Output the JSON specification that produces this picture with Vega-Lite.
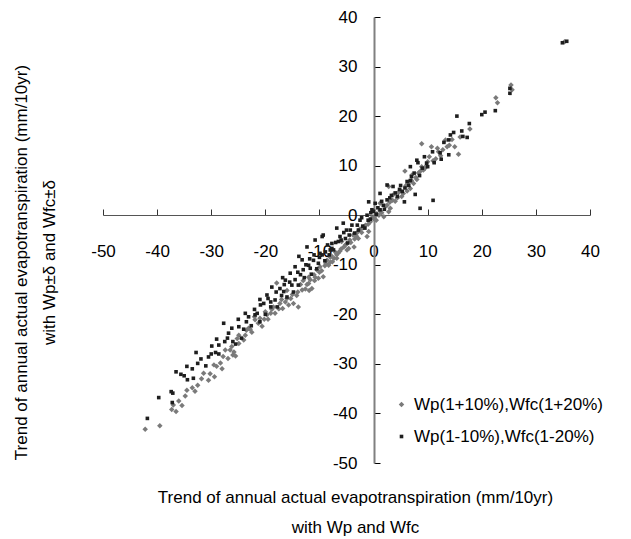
{
  "$schema": "https://vega.github.io/schema/vega-lite/v6.json",
  "autosize": {"type": "none"},
  "padding": {"left": 103, "top": 17, "right": 41, "bottom": 76},
  "width": 487,
  "height": 446,
  "background": "white",
  "config": {
    "view": {"stroke": null},
    "font": "Liberation Sans",
    "axis": {"grid": false, "labelFont": "Liberation Sans", "titleFont": "Liberation Sans", "labelColor": "#000", "titleColor": "#000", "labelFontSize": 17, "titleFontSize": 17, "titleFontWeight": "normal", "labelFlush": false, "labelOverlap": false}
  },
  "data": {
    "values": [
      {"s": "Wp(1+10%),Wfc(1+20%)", "x": -42.2, "y": -43.2},
      {"s": "Wp(1+10%),Wfc(1+20%)", "x": -39.5, "y": -42.5},
      {"s": "Wp(1+10%),Wfc(1+20%)", "x": -37.3, "y": -39.2},
      {"s": "Wp(1+10%),Wfc(1+20%)", "x": -36.5, "y": -39.6},
      {"s": "Wp(1+10%),Wfc(1+20%)", "x": -35.4, "y": -38.4},
      {"s": "Wp(1+10%),Wfc(1+20%)", "x": -37.0, "y": -38.3},
      {"s": "Wp(1+10%),Wfc(1+20%)", "x": -36.0, "y": -37.5},
      {"s": "Wp(1+10%),Wfc(1+20%)", "x": -34.8, "y": -36.5},
      {"s": "Wp(1+10%),Wfc(1+20%)", "x": -34.5, "y": -35.3},
      {"s": "Wp(1+10%),Wfc(1+20%)", "x": -33.5, "y": -34.8},
      {"s": "Wp(1+10%),Wfc(1+20%)", "x": -33.0, "y": -35.5},
      {"s": "Wp(1+10%),Wfc(1+20%)", "x": -32.5, "y": -34.3},
      {"s": "Wp(1+10%),Wfc(1+20%)", "x": -31.8, "y": -33.0},
      {"s": "Wp(1+10%),Wfc(1+20%)", "x": -31.4, "y": -31.9},
      {"s": "Wp(1+10%),Wfc(1+20%)", "x": -30.5, "y": -33.3},
      {"s": "Wp(1+10%),Wfc(1+20%)", "x": -30.2, "y": -32.0},
      {"s": "Wp(1+10%),Wfc(1+20%)", "x": -29.5, "y": -30.2},
      {"s": "Wp(1+10%),Wfc(1+20%)", "x": -29.4, "y": -32.6},
      {"s": "Wp(1+10%),Wfc(1+20%)", "x": -29.0, "y": -30.5},
      {"s": "Wp(1+10%),Wfc(1+20%)", "x": -28.3, "y": -29.8},
      {"s": "Wp(1+10%),Wfc(1+20%)", "x": -28.0, "y": -31.0},
      {"s": "Wp(1+10%),Wfc(1+20%)", "x": -27.8, "y": -28.5},
      {"s": "Wp(1+10%),Wfc(1+20%)", "x": -27.4, "y": -27.2},
      {"s": "Wp(1+10%),Wfc(1+20%)", "x": -26.9, "y": -28.9},
      {"s": "Wp(1+10%),Wfc(1+20%)", "x": -26.5, "y": -27.2},
      {"s": "Wp(1+10%),Wfc(1+20%)", "x": -26.2, "y": -26.5},
      {"s": "Wp(1+10%),Wfc(1+20%)", "x": -26.0, "y": -28.2},
      {"s": "Wp(1+10%),Wfc(1+20%)", "x": -25.8, "y": -27.6},
      {"s": "Wp(1+10%),Wfc(1+20%)", "x": -25.5, "y": -28.4},
      {"s": "Wp(1+10%),Wfc(1+20%)", "x": -24.9, "y": -25.9},
      {"s": "Wp(1+10%),Wfc(1+20%)", "x": -25.2, "y": -24.9},
      {"s": "Wp(1+10%),Wfc(1+20%)", "x": -24.9, "y": -24.2},
      {"s": "Wp(1+10%),Wfc(1+20%)", "x": -24.0, "y": -25.2},
      {"s": "Wp(1+10%),Wfc(1+20%)", "x": -23.7, "y": -24.2},
      {"s": "Wp(1+10%),Wfc(1+20%)", "x": -23.5, "y": -23.2},
      {"s": "Wp(1+10%),Wfc(1+20%)", "x": -23.1, "y": -22.8},
      {"s": "Wp(1+10%),Wfc(1+20%)", "x": -22.8, "y": -23.0},
      {"s": "Wp(1+10%),Wfc(1+20%)", "x": -22.5, "y": -23.6},
      {"s": "Wp(1+10%),Wfc(1+20%)", "x": -22.0, "y": -20.5},
      {"s": "Wp(1+10%),Wfc(1+20%)", "x": -21.9, "y": -21.1},
      {"s": "Wp(1+10%),Wfc(1+20%)", "x": -21.3, "y": -21.8},
      {"s": "Wp(1+10%),Wfc(1+20%)", "x": -21.0, "y": -20.8},
      {"s": "Wp(1+10%),Wfc(1+20%)", "x": -20.6, "y": -22.4},
      {"s": "Wp(1+10%),Wfc(1+20%)", "x": -20.2, "y": -21.0},
      {"s": "Wp(1+10%),Wfc(1+20%)", "x": -20.0, "y": -19.5},
      {"s": "Wp(1+10%),Wfc(1+20%)", "x": -19.7, "y": -20.1},
      {"s": "Wp(1+10%),Wfc(1+20%)", "x": -19.5, "y": -21.0},
      {"s": "Wp(1+10%),Wfc(1+20%)", "x": -19.0, "y": -19.8},
      {"s": "Wp(1+10%),Wfc(1+20%)", "x": -18.8, "y": -19.0},
      {"s": "Wp(1+10%),Wfc(1+20%)", "x": -18.5, "y": -18.5},
      {"s": "Wp(1+10%),Wfc(1+20%)", "x": -18.2, "y": -19.8},
      {"s": "Wp(1+10%),Wfc(1+20%)", "x": -17.9, "y": -13.7},
      {"s": "Wp(1+10%),Wfc(1+20%)", "x": -17.5, "y": -18.9},
      {"s": "Wp(1+10%),Wfc(1+20%)", "x": -17.3, "y": -17.8},
      {"s": "Wp(1+10%),Wfc(1+20%)", "x": -17.0, "y": -17.0},
      {"s": "Wp(1+10%),Wfc(1+20%)", "x": -16.8, "y": -18.8},
      {"s": "Wp(1+10%),Wfc(1+20%)", "x": -16.3, "y": -17.5},
      {"s": "Wp(1+10%),Wfc(1+20%)", "x": -16.0, "y": -16.8},
      {"s": "Wp(1+10%),Wfc(1+20%)", "x": -16.0, "y": -15.2},
      {"s": "Wp(1+10%),Wfc(1+20%)", "x": -15.7, "y": -18.1},
      {"s": "Wp(1+10%),Wfc(1+20%)", "x": -15.3, "y": -16.8},
      {"s": "Wp(1+10%),Wfc(1+20%)", "x": -15.0, "y": -16.0},
      {"s": "Wp(1+10%),Wfc(1+20%)", "x": -14.8, "y": -17.8},
      {"s": "Wp(1+10%),Wfc(1+20%)", "x": -14.2, "y": -16.2},
      {"s": "Wp(1+10%),Wfc(1+20%)", "x": -14.0, "y": -15.5},
      {"s": "Wp(1+10%),Wfc(1+20%)", "x": -13.9, "y": -18.5},
      {"s": "Wp(1+10%),Wfc(1+20%)", "x": -13.5, "y": -14.0},
      {"s": "Wp(1+10%),Wfc(1+20%)", "x": -13.2, "y": -15.1},
      {"s": "Wp(1+10%),Wfc(1+20%)", "x": -13.0, "y": -13.2},
      {"s": "Wp(1+10%),Wfc(1+20%)", "x": -12.6, "y": -14.9},
      {"s": "Wp(1+10%),Wfc(1+20%)", "x": -12.3, "y": -14.0},
      {"s": "Wp(1+10%),Wfc(1+20%)", "x": -12.0, "y": -13.8},
      {"s": "Wp(1+10%),Wfc(1+20%)", "x": -12.0, "y": -12.5},
      {"s": "Wp(1+10%),Wfc(1+20%)", "x": -11.9, "y": -15.2},
      {"s": "Wp(1+10%),Wfc(1+20%)", "x": -11.7, "y": -13.0},
      {"s": "Wp(1+10%),Wfc(1+20%)", "x": -11.4, "y": -14.8},
      {"s": "Wp(1+10%),Wfc(1+20%)", "x": -11.0, "y": -12.0},
      {"s": "Wp(1+10%),Wfc(1+20%)", "x": -10.9, "y": -13.2},
      {"s": "Wp(1+10%),Wfc(1+20%)", "x": -10.8, "y": -12.5},
      {"s": "Wp(1+10%),Wfc(1+20%)", "x": -10.5, "y": -11.0},
      {"s": "Wp(1+10%),Wfc(1+20%)", "x": -10.2, "y": -12.7},
      {"s": "Wp(1+10%),Wfc(1+20%)", "x": -10.0, "y": -11.5},
      {"s": "Wp(1+10%),Wfc(1+20%)", "x": -9.3, "y": -12.4},
      {"s": "Wp(1+10%),Wfc(1+20%)", "x": -9.9, "y": -10.4},
      {"s": "Wp(1+10%),Wfc(1+20%)", "x": -9.6, "y": -11.2},
      {"s": "Wp(1+10%),Wfc(1+20%)", "x": -9.0, "y": -10.2},
      {"s": "Wp(1+10%),Wfc(1+20%)", "x": -8.8, "y": -9.8},
      {"s": "Wp(1+10%),Wfc(1+20%)", "x": -8.6, "y": -9.1},
      {"s": "Wp(1+10%),Wfc(1+20%)", "x": -8.3, "y": -10.1},
      {"s": "Wp(1+10%),Wfc(1+20%)", "x": -8.0, "y": -8.5},
      {"s": "Wp(1+10%),Wfc(1+20%)", "x": -8.0, "y": -9.5},
      {"s": "Wp(1+10%),Wfc(1+20%)", "x": -7.8, "y": -8.2},
      {"s": "Wp(1+10%),Wfc(1+20%)", "x": -7.6, "y": -9.4},
      {"s": "Wp(1+10%),Wfc(1+20%)", "x": -7.3, "y": -8.7},
      {"s": "Wp(1+10%),Wfc(1+20%)", "x": -7.0, "y": -7.5},
      {"s": "Wp(1+10%),Wfc(1+20%)", "x": -6.8, "y": -8.0},
      {"s": "Wp(1+10%),Wfc(1+20%)", "x": -6.8, "y": -8.7},
      {"s": "Wp(1+10%),Wfc(1+20%)", "x": -6.5, "y": -7.6},
      {"s": "Wp(1+10%),Wfc(1+20%)", "x": -6.2, "y": -7.2},
      {"s": "Wp(1+10%),Wfc(1+20%)", "x": -6.0, "y": -6.8},
      {"s": "Wp(1+10%),Wfc(1+20%)", "x": -5.9, "y": -5.3},
      {"s": "Wp(1+10%),Wfc(1+20%)", "x": -5.5, "y": -6.4},
      {"s": "Wp(1+10%),Wfc(1+20%)", "x": -5.2, "y": -6.0},
      {"s": "Wp(1+10%),Wfc(1+20%)", "x": -5.0, "y": -5.8},
      {"s": "Wp(1+10%),Wfc(1+20%)", "x": -4.9, "y": -7.0},
      {"s": "Wp(1+10%),Wfc(1+20%)", "x": -4.6, "y": -6.7},
      {"s": "Wp(1+10%),Wfc(1+20%)", "x": -4.4, "y": -5.0},
      {"s": "Wp(1+10%),Wfc(1+20%)", "x": -4.2, "y": -5.5},
      {"s": "Wp(1+10%),Wfc(1+20%)", "x": -3.8, "y": -4.0},
      {"s": "Wp(1+10%),Wfc(1+20%)", "x": -3.6, "y": -6.4},
      {"s": "Wp(1+10%),Wfc(1+20%)", "x": -3.5, "y": -4.8},
      {"s": "Wp(1+10%),Wfc(1+20%)", "x": -3.2, "y": -4.2},
      {"s": "Wp(1+10%),Wfc(1+20%)", "x": -3.0, "y": -3.5},
      {"s": "Wp(1+10%),Wfc(1+20%)", "x": -2.8, "y": -4.7},
      {"s": "Wp(1+10%),Wfc(1+20%)", "x": -2.5, "y": -2.8},
      {"s": "Wp(1+10%),Wfc(1+20%)", "x": -2.2, "y": -3.5},
      {"s": "Wp(1+10%),Wfc(1+20%)", "x": -2.0, "y": -2.6},
      {"s": "Wp(1+10%),Wfc(1+20%)", "x": -1.8, "y": -2.4},
      {"s": "Wp(1+10%),Wfc(1+20%)", "x": -1.2, "y": -4.3},
      {"s": "Wp(1+10%),Wfc(1+20%)", "x": -1.0, "y": -1.8},
      {"s": "Wp(1+10%),Wfc(1+20%)", "x": -0.9, "y": -3.3},
      {"s": "Wp(1+10%),Wfc(1+20%)", "x": -1.5, "y": -2.0},
      {"s": "Wp(1+10%),Wfc(1+20%)", "x": -0.6, "y": -1.3},
      {"s": "Wp(1+10%),Wfc(1+20%)", "x": -0.3, "y": -0.5},
      {"s": "Wp(1+10%),Wfc(1+20%)", "x": 0.0, "y": -0.7},
      {"s": "Wp(1+10%),Wfc(1+20%)", "x": 0.3, "y": -0.2},
      {"s": "Wp(1+10%),Wfc(1+20%)", "x": 0.5, "y": -1.0},
      {"s": "Wp(1+10%),Wfc(1+20%)", "x": 0.6, "y": 0.3},
      {"s": "Wp(1+10%),Wfc(1+20%)", "x": 1.0, "y": 0.0},
      {"s": "Wp(1+10%),Wfc(1+20%)", "x": 1.2, "y": 0.9},
      {"s": "Wp(1+10%),Wfc(1+20%)", "x": 1.5, "y": 0.5},
      {"s": "Wp(1+10%),Wfc(1+20%)", "x": 1.9, "y": -0.3},
      {"s": "Wp(1+10%),Wfc(1+20%)", "x": 2.5, "y": 2.0},
      {"s": "Wp(1+10%),Wfc(1+20%)", "x": 2.8, "y": 0.7},
      {"s": "Wp(1+10%),Wfc(1+20%)", "x": 3.1, "y": 1.4},
      {"s": "Wp(1+10%),Wfc(1+20%)", "x": 1.2, "y": 2.4},
      {"s": "Wp(1+10%),Wfc(1+20%)", "x": 2.2, "y": 1.8},
      {"s": "Wp(1+10%),Wfc(1+20%)", "x": 3.0, "y": 2.6},
      {"s": "Wp(1+10%),Wfc(1+20%)", "x": 3.5, "y": 3.0},
      {"s": "Wp(1+10%),Wfc(1+20%)", "x": 3.6, "y": 4.1},
      {"s": "Wp(1+10%),Wfc(1+20%)", "x": 2.8, "y": 5.8},
      {"s": "Wp(1+10%),Wfc(1+20%)", "x": 4.0, "y": 2.8},
      {"s": "Wp(1+10%),Wfc(1+20%)", "x": 4.4, "y": 3.5},
      {"s": "Wp(1+10%),Wfc(1+20%)", "x": 4.6, "y": 4.6},
      {"s": "Wp(1+10%),Wfc(1+20%)", "x": 5.2, "y": 3.8},
      {"s": "Wp(1+10%),Wfc(1+20%)", "x": 5.5, "y": 4.4},
      {"s": "Wp(1+10%),Wfc(1+20%)", "x": 5.0, "y": 5.0},
      {"s": "Wp(1+10%),Wfc(1+20%)", "x": 6.2, "y": 4.9},
      {"s": "Wp(1+10%),Wfc(1+20%)", "x": 6.0, "y": 6.0},
      {"s": "Wp(1+10%),Wfc(1+20%)", "x": 6.5, "y": 6.6},
      {"s": "Wp(1+10%),Wfc(1+20%)", "x": 6.8, "y": 5.4},
      {"s": "Wp(1+10%),Wfc(1+20%)", "x": 7.0, "y": 7.0},
      {"s": "Wp(1+10%),Wfc(1+20%)", "x": 7.4, "y": 6.4},
      {"s": "Wp(1+10%),Wfc(1+20%)", "x": 7.8, "y": 7.6},
      {"s": "Wp(1+10%),Wfc(1+20%)", "x": 5.8, "y": 8.9},
      {"s": "Wp(1+10%),Wfc(1+20%)", "x": 7.1, "y": 8.1},
      {"s": "Wp(1+10%),Wfc(1+20%)", "x": 8.3, "y": 8.5},
      {"s": "Wp(1+10%),Wfc(1+20%)", "x": 8.6, "y": 8.8},
      {"s": "Wp(1+10%),Wfc(1+20%)", "x": 8.0, "y": 7.2},
      {"s": "Wp(1+10%),Wfc(1+20%)", "x": 9.2, "y": 9.1},
      {"s": "Wp(1+10%),Wfc(1+20%)", "x": 9.5, "y": 9.5},
      {"s": "Wp(1+10%),Wfc(1+20%)", "x": 9.8, "y": 10.0},
      {"s": "Wp(1+10%),Wfc(1+20%)", "x": 8.9, "y": 9.8},
      {"s": "Wp(1+10%),Wfc(1+20%)", "x": 10.0, "y": 10.8},
      {"s": "Wp(1+10%),Wfc(1+20%)", "x": 10.3, "y": 11.8},
      {"s": "Wp(1+10%),Wfc(1+20%)", "x": 11.0, "y": 11.0},
      {"s": "Wp(1+10%),Wfc(1+20%)", "x": 8.9, "y": 14.4},
      {"s": "Wp(1+10%),Wfc(1+20%)", "x": 10.7, "y": 13.8},
      {"s": "Wp(1+10%),Wfc(1+20%)", "x": 11.8, "y": 13.5},
      {"s": "Wp(1+10%),Wfc(1+20%)", "x": 11.5, "y": 11.4},
      {"s": "Wp(1+10%),Wfc(1+20%)", "x": 12.0, "y": 12.8},
      {"s": "Wp(1+10%),Wfc(1+20%)", "x": 12.4, "y": 12.0},
      {"s": "Wp(1+10%),Wfc(1+20%)", "x": 12.8, "y": 13.2},
      {"s": "Wp(1+10%),Wfc(1+20%)", "x": 13.3, "y": 15.2},
      {"s": "Wp(1+10%),Wfc(1+20%)", "x": 13.6, "y": 13.8},
      {"s": "Wp(1+10%),Wfc(1+20%)", "x": 14.0, "y": 14.1},
      {"s": "Wp(1+10%),Wfc(1+20%)", "x": 14.5, "y": 15.3},
      {"s": "Wp(1+10%),Wfc(1+20%)", "x": 15.7, "y": 12.3},
      {"s": "Wp(1+10%),Wfc(1+20%)", "x": 15.0, "y": 13.8},
      {"s": "Wp(1+10%),Wfc(1+20%)", "x": 16.0, "y": 15.8},
      {"s": "Wp(1+10%),Wfc(1+20%)", "x": 17.8, "y": 17.4},
      {"s": "Wp(1+10%),Wfc(1+20%)", "x": 22.6, "y": 23.7},
      {"s": "Wp(1+10%),Wfc(1+20%)", "x": 22.9, "y": 22.7},
      {"s": "Wp(1+10%),Wfc(1+20%)", "x": 25.4, "y": 26.3},
      {"s": "Wp(1+10%),Wfc(1+20%)", "x": 25.6, "y": 25.3},
      {"s": "Wp(1+10%),Wfc(1+20%)", "x": 35.3, "y": 35.0},
      {"s": "Wp(1-10%),Wfc(1-20%)", "x": -41.8, "y": -41.0},
      {"s": "Wp(1-10%),Wfc(1-20%)", "x": -39.7, "y": -36.8},
      {"s": "Wp(1-10%),Wfc(1-20%)", "x": -37.4, "y": -35.6},
      {"s": "Wp(1-10%),Wfc(1-20%)", "x": -37.1, "y": -35.9},
      {"s": "Wp(1-10%),Wfc(1-20%)", "x": -37.2, "y": -37.8},
      {"s": "Wp(1-10%),Wfc(1-20%)", "x": -36.5, "y": -31.6},
      {"s": "Wp(1-10%),Wfc(1-20%)", "x": -35.6, "y": -32.1},
      {"s": "Wp(1-10%),Wfc(1-20%)", "x": -35.0, "y": -32.4},
      {"s": "Wp(1-10%),Wfc(1-20%)", "x": -34.5, "y": -30.5},
      {"s": "Wp(1-10%),Wfc(1-20%)", "x": -34.4, "y": -33.2},
      {"s": "Wp(1-10%),Wfc(1-20%)", "x": -33.5, "y": -31.0},
      {"s": "Wp(1-10%),Wfc(1-20%)", "x": -33.3, "y": -32.9},
      {"s": "Wp(1-10%),Wfc(1-20%)", "x": -32.8, "y": -27.7},
      {"s": "Wp(1-10%),Wfc(1-20%)", "x": -32.5, "y": -29.9},
      {"s": "Wp(1-10%),Wfc(1-20%)", "x": -31.9, "y": -29.0},
      {"s": "Wp(1-10%),Wfc(1-20%)", "x": -31.0, "y": -30.4},
      {"s": "Wp(1-10%),Wfc(1-20%)", "x": -30.5, "y": -28.6},
      {"s": "Wp(1-10%),Wfc(1-20%)", "x": -30.0, "y": -28.0},
      {"s": "Wp(1-10%),Wfc(1-20%)", "x": -29.9, "y": -26.4},
      {"s": "Wp(1-10%),Wfc(1-20%)", "x": -29.2, "y": -27.7},
      {"s": "Wp(1-10%),Wfc(1-20%)", "x": -29.0, "y": -25.0},
      {"s": "Wp(1-10%),Wfc(1-20%)", "x": -28.6, "y": -26.2},
      {"s": "Wp(1-10%),Wfc(1-20%)", "x": -28.6, "y": -28.0},
      {"s": "Wp(1-10%),Wfc(1-20%)", "x": -27.7, "y": -21.8},
      {"s": "Wp(1-10%),Wfc(1-20%)", "x": -27.5, "y": -25.5},
      {"s": "Wp(1-10%),Wfc(1-20%)", "x": -27.0, "y": -24.8},
      {"s": "Wp(1-10%),Wfc(1-20%)", "x": -26.8, "y": -23.8},
      {"s": "Wp(1-10%),Wfc(1-20%)", "x": -26.2, "y": -22.8},
      {"s": "Wp(1-10%),Wfc(1-20%)", "x": -26.0, "y": -25.5},
      {"s": "Wp(1-10%),Wfc(1-20%)", "x": -25.5, "y": -26.0},
      {"s": "Wp(1-10%),Wfc(1-20%)", "x": -25.0, "y": -21.0},
      {"s": "Wp(1-10%),Wfc(1-20%)", "x": -24.9, "y": -22.5},
      {"s": "Wp(1-10%),Wfc(1-20%)", "x": -24.4, "y": -24.8},
      {"s": "Wp(1-10%),Wfc(1-20%)", "x": -24.0, "y": -23.0},
      {"s": "Wp(1-10%),Wfc(1-20%)", "x": -23.7, "y": -19.8},
      {"s": "Wp(1-10%),Wfc(1-20%)", "x": -23.5, "y": -21.5},
      {"s": "Wp(1-10%),Wfc(1-20%)", "x": -23.1, "y": -20.5},
      {"s": "Wp(1-10%),Wfc(1-20%)", "x": -22.6, "y": -22.3},
      {"s": "Wp(1-10%),Wfc(1-20%)", "x": -22.0, "y": -19.0},
      {"s": "Wp(1-10%),Wfc(1-20%)", "x": -21.9, "y": -20.1},
      {"s": "Wp(1-10%),Wfc(1-20%)", "x": -21.5, "y": -19.8},
      {"s": "Wp(1-10%),Wfc(1-20%)", "x": -21.0, "y": -21.5},
      {"s": "Wp(1-10%),Wfc(1-20%)", "x": -21.0, "y": -17.0},
      {"s": "Wp(1-10%),Wfc(1-20%)", "x": -20.9, "y": -18.1},
      {"s": "Wp(1-10%),Wfc(1-20%)", "x": -20.3, "y": -17.8},
      {"s": "Wp(1-10%),Wfc(1-20%)", "x": -20.0, "y": -20.0},
      {"s": "Wp(1-10%),Wfc(1-20%)", "x": -19.7, "y": -16.1},
      {"s": "Wp(1-10%),Wfc(1-20%)", "x": -19.5, "y": -16.8},
      {"s": "Wp(1-10%),Wfc(1-20%)", "x": -19.0, "y": -18.5},
      {"s": "Wp(1-10%),Wfc(1-20%)", "x": -19.0, "y": -17.5},
      {"s": "Wp(1-10%),Wfc(1-20%)", "x": -18.8, "y": -14.5},
      {"s": "Wp(1-10%),Wfc(1-20%)", "x": -18.2, "y": -17.1},
      {"s": "Wp(1-10%),Wfc(1-20%)", "x": -18.0, "y": -15.5},
      {"s": "Wp(1-10%),Wfc(1-20%)", "x": -17.8, "y": -18.5},
      {"s": "Wp(1-10%),Wfc(1-20%)", "x": -17.3, "y": -14.8},
      {"s": "Wp(1-10%),Wfc(1-20%)", "x": -17.0, "y": -16.2},
      {"s": "Wp(1-10%),Wfc(1-20%)", "x": -16.8, "y": -12.6},
      {"s": "Wp(1-10%),Wfc(1-20%)", "x": -16.6, "y": -15.4},
      {"s": "Wp(1-10%),Wfc(1-20%)", "x": -16.5, "y": -14.0},
      {"s": "Wp(1-10%),Wfc(1-20%)", "x": -16.3, "y": -13.1},
      {"s": "Wp(1-10%),Wfc(1-20%)", "x": -16.0, "y": -16.5},
      {"s": "Wp(1-10%),Wfc(1-20%)", "x": -15.5, "y": -13.5},
      {"s": "Wp(1-10%),Wfc(1-20%)", "x": -15.4, "y": -11.7},
      {"s": "Wp(1-10%),Wfc(1-20%)", "x": -15.1, "y": -14.1},
      {"s": "Wp(1-10%),Wfc(1-20%)", "x": -14.8, "y": -15.5},
      {"s": "Wp(1-10%),Wfc(1-20%)", "x": -14.5, "y": -10.4},
      {"s": "Wp(1-10%),Wfc(1-20%)", "x": -14.5, "y": -13.0},
      {"s": "Wp(1-10%),Wfc(1-20%)", "x": -14.0, "y": -11.5},
      {"s": "Wp(1-10%),Wfc(1-20%)", "x": -13.9, "y": -14.1},
      {"s": "Wp(1-10%),Wfc(1-20%)", "x": -13.8, "y": -8.3},
      {"s": "Wp(1-10%),Wfc(1-20%)", "x": -13.5, "y": -12.0},
      {"s": "Wp(1-10%),Wfc(1-20%)", "x": -13.2, "y": -9.0},
      {"s": "Wp(1-10%),Wfc(1-20%)", "x": -13.0, "y": -11.0},
      {"s": "Wp(1-10%),Wfc(1-20%)", "x": -12.8, "y": -12.6},
      {"s": "Wp(1-10%),Wfc(1-20%)", "x": -12.5, "y": -10.0},
      {"s": "Wp(1-10%),Wfc(1-20%)", "x": -12.3, "y": -6.4},
      {"s": "Wp(1-10%),Wfc(1-20%)", "x": -12.0, "y": -10.1},
      {"s": "Wp(1-10%),Wfc(1-20%)", "x": -11.8, "y": -8.8},
      {"s": "Wp(1-10%),Wfc(1-20%)", "x": -11.7, "y": -10.7},
      {"s": "Wp(1-10%),Wfc(1-20%)", "x": -11.5, "y": -11.9},
      {"s": "Wp(1-10%),Wfc(1-20%)", "x": -11.1, "y": -9.1},
      {"s": "Wp(1-10%),Wfc(1-20%)", "x": -11.0, "y": -8.0},
      {"s": "Wp(1-10%),Wfc(1-20%)", "x": -10.8, "y": -5.0},
      {"s": "Wp(1-10%),Wfc(1-20%)", "x": -10.5, "y": -10.8},
      {"s": "Wp(1-10%),Wfc(1-20%)", "x": -10.2, "y": -9.7},
      {"s": "Wp(1-10%),Wfc(1-20%)", "x": -10.0, "y": -8.5},
      {"s": "Wp(1-10%),Wfc(1-20%)", "x": -9.9, "y": -7.7},
      {"s": "Wp(1-10%),Wfc(1-20%)", "x": -9.5, "y": -4.3},
      {"s": "Wp(1-10%),Wfc(1-20%)", "x": -9.5, "y": -8.0},
      {"s": "Wp(1-10%),Wfc(1-20%)", "x": -9.3, "y": -4.0},
      {"s": "Wp(1-10%),Wfc(1-20%)", "x": -9.0, "y": -9.2},
      {"s": "Wp(1-10%),Wfc(1-20%)", "x": -8.9, "y": -7.4},
      {"s": "Wp(1-10%),Wfc(1-20%)", "x": -8.5, "y": -6.0},
      {"s": "Wp(1-10%),Wfc(1-20%)", "x": -8.2, "y": -8.0},
      {"s": "Wp(1-10%),Wfc(1-20%)", "x": -8.0, "y": -7.0},
      {"s": "Wp(1-10%),Wfc(1-20%)", "x": -7.7, "y": -6.7},
      {"s": "Wp(1-10%),Wfc(1-20%)", "x": -7.7, "y": -5.7},
      {"s": "Wp(1-10%),Wfc(1-20%)", "x": -7.4, "y": -7.0},
      {"s": "Wp(1-10%),Wfc(1-20%)", "x": -7.0, "y": -5.5},
      {"s": "Wp(1-10%),Wfc(1-20%)", "x": -6.8, "y": -2.6},
      {"s": "Wp(1-10%),Wfc(1-20%)", "x": -6.5, "y": -5.3},
      {"s": "Wp(1-10%),Wfc(1-20%)", "x": -6.2, "y": -4.3},
      {"s": "Wp(1-10%),Wfc(1-20%)", "x": -6.0, "y": -5.0},
      {"s": "Wp(1-10%),Wfc(1-20%)", "x": -5.6, "y": -1.6},
      {"s": "Wp(1-10%),Wfc(1-20%)", "x": -5.5, "y": -3.5},
      {"s": "Wp(1-10%),Wfc(1-20%)", "x": -5.2, "y": -4.7},
      {"s": "Wp(1-10%),Wfc(1-20%)", "x": -5.0, "y": -3.0},
      {"s": "Wp(1-10%),Wfc(1-20%)", "x": -4.8, "y": -5.6},
      {"s": "Wp(1-10%),Wfc(1-20%)", "x": -4.5, "y": -4.0},
      {"s": "Wp(1-10%),Wfc(1-20%)", "x": -4.3, "y": -3.0},
      {"s": "Wp(1-10%),Wfc(1-20%)", "x": -4.0, "y": -2.0},
      {"s": "Wp(1-10%),Wfc(1-20%)", "x": -3.5, "y": -3.6},
      {"s": "Wp(1-10%),Wfc(1-20%)", "x": -3.0, "y": -2.0},
      {"s": "Wp(1-10%),Wfc(1-20%)", "x": -2.8, "y": -3.0},
      {"s": "Wp(1-10%),Wfc(1-20%)", "x": -2.5, "y": -1.0},
      {"s": "Wp(1-10%),Wfc(1-20%)", "x": -2.2, "y": -0.5},
      {"s": "Wp(1-10%),Wfc(1-20%)", "x": -2.0, "y": -2.2},
      {"s": "Wp(1-10%),Wfc(1-20%)", "x": -1.6, "y": -2.6},
      {"s": "Wp(1-10%),Wfc(1-20%)", "x": -1.2, "y": 0.0},
      {"s": "Wp(1-10%),Wfc(1-20%)", "x": -1.0, "y": -1.0},
      {"s": "Wp(1-10%),Wfc(1-20%)", "x": -0.9, "y": 2.7},
      {"s": "Wp(1-10%),Wfc(1-20%)", "x": -0.6, "y": -0.8},
      {"s": "Wp(1-10%),Wfc(1-20%)", "x": -0.5, "y": 0.5},
      {"s": "Wp(1-10%),Wfc(1-20%)", "x": -0.3, "y": 1.1},
      {"s": "Wp(1-10%),Wfc(1-20%)", "x": 0.0, "y": 0.8},
      {"s": "Wp(1-10%),Wfc(1-20%)", "x": 0.3, "y": 2.4},
      {"s": "Wp(1-10%),Wfc(1-20%)", "x": 0.5, "y": 0.2},
      {"s": "Wp(1-10%),Wfc(1-20%)", "x": 0.8, "y": 1.5},
      {"s": "Wp(1-10%),Wfc(1-20%)", "x": 1.2, "y": 1.1},
      {"s": "Wp(1-10%),Wfc(1-20%)", "x": 1.2, "y": 4.4},
      {"s": "Wp(1-10%),Wfc(1-20%)", "x": 1.5, "y": 2.8},
      {"s": "Wp(1-10%),Wfc(1-20%)", "x": 1.8, "y": 2.0},
      {"s": "Wp(1-10%),Wfc(1-20%)", "x": 2.0, "y": 1.2},
      {"s": "Wp(1-10%),Wfc(1-20%)", "x": 2.5, "y": 3.1},
      {"s": "Wp(1-10%),Wfc(1-20%)", "x": 2.5, "y": 6.1},
      {"s": "Wp(1-10%),Wfc(1-20%)", "x": 3.0, "y": 3.5},
      {"s": "Wp(1-10%),Wfc(1-20%)", "x": 3.3, "y": 4.0},
      {"s": "Wp(1-10%),Wfc(1-20%)", "x": 3.6, "y": 5.8},
      {"s": "Wp(1-10%),Wfc(1-20%)", "x": 4.0, "y": 4.5},
      {"s": "Wp(1-10%),Wfc(1-20%)", "x": 4.4, "y": 3.8},
      {"s": "Wp(1-10%),Wfc(1-20%)", "x": 4.8, "y": 5.2},
      {"s": "Wp(1-10%),Wfc(1-20%)", "x": 5.0, "y": 6.0},
      {"s": "Wp(1-10%),Wfc(1-20%)", "x": 5.3, "y": 4.8},
      {"s": "Wp(1-10%),Wfc(1-20%)", "x": 5.7, "y": 2.7},
      {"s": "Wp(1-10%),Wfc(1-20%)", "x": 5.8, "y": 5.5},
      {"s": "Wp(1-10%),Wfc(1-20%)", "x": 6.2, "y": 6.8},
      {"s": "Wp(1-10%),Wfc(1-20%)", "x": 6.5, "y": 6.0},
      {"s": "Wp(1-10%),Wfc(1-20%)", "x": 6.8, "y": 7.0},
      {"s": "Wp(1-10%),Wfc(1-20%)", "x": 7.0, "y": 7.8},
      {"s": "Wp(1-10%),Wfc(1-20%)", "x": 7.5, "y": 8.5},
      {"s": "Wp(1-10%),Wfc(1-20%)", "x": 7.7, "y": 4.2},
      {"s": "Wp(1-10%),Wfc(1-20%)", "x": 8.0, "y": 11.1},
      {"s": "Wp(1-10%),Wfc(1-20%)", "x": 8.2, "y": 10.6},
      {"s": "Wp(1-10%),Wfc(1-20%)", "x": 8.5, "y": 8.0},
      {"s": "Wp(1-10%),Wfc(1-20%)", "x": 8.6, "y": 1.4},
      {"s": "Wp(1-10%),Wfc(1-20%)", "x": 6.8, "y": 9.8},
      {"s": "Wp(1-10%),Wfc(1-20%)", "x": 9.0, "y": 9.5},
      {"s": "Wp(1-10%),Wfc(1-20%)", "x": 9.4, "y": 11.8},
      {"s": "Wp(1-10%),Wfc(1-20%)", "x": 9.8, "y": 10.5},
      {"s": "Wp(1-10%),Wfc(1-20%)", "x": 10.0, "y": 9.8},
      {"s": "Wp(1-10%),Wfc(1-20%)", "x": 10.9, "y": 12.8},
      {"s": "Wp(1-10%),Wfc(1-20%)", "x": 11.0, "y": 3.0},
      {"s": "Wp(1-10%),Wfc(1-20%)", "x": 11.2, "y": 10.6},
      {"s": "Wp(1-10%),Wfc(1-20%)", "x": 12.3, "y": 12.6},
      {"s": "Wp(1-10%),Wfc(1-20%)", "x": 12.5, "y": 11.3},
      {"s": "Wp(1-10%),Wfc(1-20%)", "x": 13.0, "y": 14.7},
      {"s": "Wp(1-10%),Wfc(1-20%)", "x": 13.9, "y": 12.2},
      {"s": "Wp(1-10%),Wfc(1-20%)", "x": 13.9, "y": 15.2},
      {"s": "Wp(1-10%),Wfc(1-20%)", "x": 14.2, "y": 16.2},
      {"s": "Wp(1-10%),Wfc(1-20%)", "x": 14.8, "y": 16.7},
      {"s": "Wp(1-10%),Wfc(1-20%)", "x": 15.4, "y": 20.0},
      {"s": "Wp(1-10%),Wfc(1-20%)", "x": 16.3, "y": 17.0},
      {"s": "Wp(1-10%),Wfc(1-20%)", "x": 16.5, "y": 15.9},
      {"s": "Wp(1-10%),Wfc(1-20%)", "x": 17.3, "y": 15.7},
      {"s": "Wp(1-10%),Wfc(1-20%)", "x": 17.7, "y": 18.5},
      {"s": "Wp(1-10%),Wfc(1-20%)", "x": 20.0, "y": 20.3},
      {"s": "Wp(1-10%),Wfc(1-20%)", "x": 20.6, "y": 20.8},
      {"s": "Wp(1-10%),Wfc(1-20%)", "x": 22.5, "y": 21.1},
      {"s": "Wp(1-10%),Wfc(1-20%)", "x": 25.2, "y": 25.6},
      {"s": "Wp(1-10%),Wfc(1-20%)", "x": 25.2, "y": 24.6},
      {"s": "Wp(1-10%),Wfc(1-20%)", "x": 34.9, "y": 34.8},
      {"s": "Wp(1-10%),Wfc(1-20%)", "x": 35.7, "y": 35.1}
    ]
  },
  "mark": {"type": "point", "filled": true, "opacity": 1},
  "encoding": {
    "x": {
      "field": "x", "type": "quantitative",
      "scale": {"domain": [-50, 40], "nice": false, "zero": false},
      "axis": {
        "orient": "bottom", "offset": -248,
        "values": [-50, -40, -30, -20, -10, 0, 10, 20, 30, 40],
        "labelExpr": "'' + datum.value",
        "tickSize": -6, "tickColor": "#333", "domainColor": "#555", "domainWidth": 1,
        "labelPadding": 34,
        "title": ["Trend of annual actual evapotranspiration (mm/10yr)", "with Wp and Wfc"],
        "titleX": 252, "titleY": 274, "titleBaseline": "top", "titleLineHeight": 30
      }
    },
    "y": {
      "field": "y", "type": "quantitative",
      "scale": {"domain": [-50, 40], "nice": false, "zero": false},
      "axis": {
        "orient": "left", "offset": -271,
        "values": [-50, -40, -30, -20, -10, 0, 10, 20, 30, 40],
        "labelExpr": "'' + datum.value",
        "tickSize": -6, "tickColor": "#000", "domainColor": "#808080", "domainWidth": 2,
        "labelPadding": 23,
        "title": ["Trend of annual actual evapotranspiration (mm/10yr)", "with Wp±δ and Wfc±δ"],
        "titleX": -361, "titleY": 245, "titleBaseline": "top", "titleAlign": "center", "titleLineHeight": 28, "titleAngle": -90
      }
    },
    "color": {
      "field": "s", "type": "nominal",
      "scale": {"domain": ["Wp(1+10%),Wfc(1+20%)", "Wp(1-10%),Wfc(1-20%)"], "range": ["#7a7a7a", "#1e1e1e"]},
      "legend": {
        "title": null, "orient": "none", "legendX": 290, "legendY": 379,
        "labelFont": "Liberation Sans", "labelFontSize": 17, "labelColor": "#000", "labelLimit": 400,
        "labelOffset": 4, "rowPadding": 14, "padding": 0
      }
    },
    "shape": {
      "field": "s", "type": "nominal",
      "scale": {"domain": ["Wp(1+10%),Wfc(1+20%)", "Wp(1-10%),Wfc(1-20%)"], "range": ["diamond", "square"]}
    },
    "size": {
      "field": "s", "type": "nominal",
      "scale": {"domain": ["Wp(1+10%),Wfc(1+20%)", "Wp(1-10%),Wfc(1-20%)"], "range": [30, 13]}
    }
  }
}
